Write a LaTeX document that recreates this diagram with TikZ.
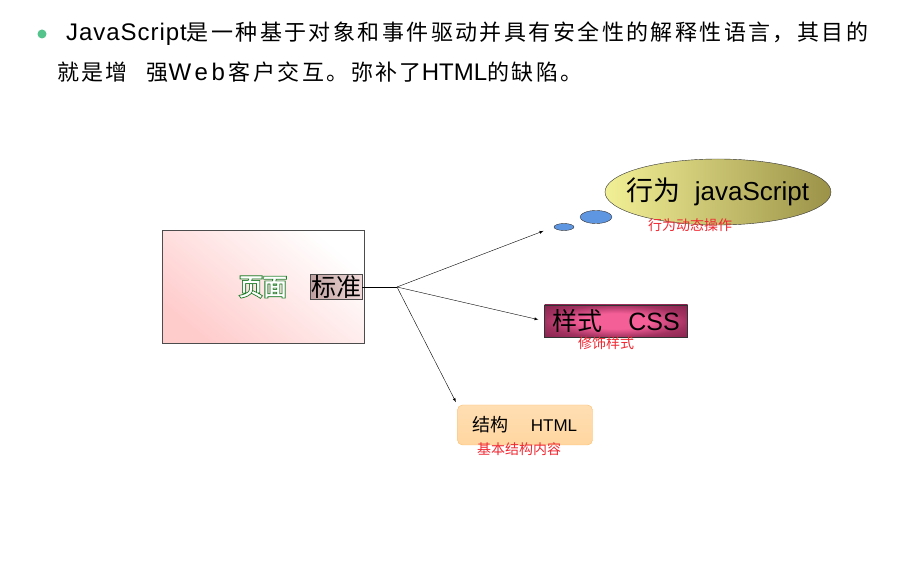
\documentclass[tikz,border=0pt]{standalone}
\usepackage{fontspec}
\setmainfont{Noto Sans CJK SC}
\newfontfamily\latinF{Liberation Sans}
\usetikzlibrary{shapes,positioning,calc}
\definecolor{dotGreen}{RGB}{84,196,140}
\definecolor{pageGreen}{RGB}{30,125,40}
\definecolor{noteRed}{RGB}{240,40,50}
\definecolor{bubBlue}{RGB}{95,150,225}
\definecolor{olivLight}{RGB}{242,240,150}
\definecolor{olivDark}{RGB}{155,146,72}
\definecolor{cssPink}{RGB}{245,95,152}
\definecolor{cssDark}{RGB}{135,35,78}
\definecolor{htmlFill}{RGB}{255,214,160}
\definecolor{htmlLine}{RGB}{250,190,110}
\pgfdeclareradialshading{cssGlow}{\pgfpoint{0bp}{0bp}}%
  {color(0bp)=(cssPink); color(12bp)=(cssPink); color(25bp)=(cssDark!75!cssPink);
   color(36bp)=(cssDark); color(50bp)=(cssDark)}

\begin{document}
\begin{tikzpicture}
  [x=1pt,y=-1pt,
   titleT/.style={anchor=west,inner sep=0pt,font=\fontsize{22}{25}\selectfont},
   pageN/.style={draw=black!70,minimum width=202pt,minimum height=113pt,
                 top color=white,bottom color=red!20,shading angle=-40},
   stdN/.style={draw=black!70,inner sep=1pt,font=\fontsize{25}{27}\selectfont,
                left color={rgb,255:red,190;green,160;blue,160},
                right color={rgb,255:red,242;green,218;blue,218}},
   bubbleN/.style={ellipse,draw=black!80,fill=bubBlue,inner sep=0pt},
   jsN/.style={ellipse,draw=black!80,minimum width=226pt,minimum height=66pt,inner sep=0pt,
               left color=olivLight,right color=olivDark},
   cssN/.style={draw=black!80,minimum width=143pt,minimum height=32pt,inner sep=0pt,
                shading=cssGlow,font=\fontsize{25}{28}\selectfont},
   htmlN/.style={draw=htmlLine,rounded corners=5pt,minimum width=135pt,minimum height=40pt,
                 inner sep=0pt,top color=htmlFill!80!white,bottom color=htmlFill,
                 font=\fontsize{18}{20}\selectfont},
   noteN/.style={text=noteRed,inner sep=0pt,font=\fontsize{14}{16}\selectfont},
   thin,>=latex]

  \useasboundingbox (0,0) rectangle (922,569);

  % heading
  \fill [dotGreen] (42,34) circle (4.5pt);
  \node at (66,34) [titleT] (line1)
    {{\latinF\fontsize{24}{25}\selectfont\addfontfeature{LetterSpace=4}JavaScript}%
     {\addfontfeature{LetterSpace=11}是一种基于对象和事件驱动并具有安全性的解释性语言，其目的}};
  \node at (57,72) [titleT] (line2)
    {{\addfontfeature{LetterSpace=10}就是增}\hspace{19pt}{\addfontfeature{LetterSpace=10}强}%
     {\latinF\fontsize{24}{25}\selectfont W\hspace{3.5pt}e\hspace{3.5pt}b\hspace{4pt}}%
     {\addfontfeature{LetterSpace=11}客户交互。弥补了}{\latinF\fontsize{24}{25}\selectfont HTML}%
     {\addfontfeature{LetterSpace=11}的缺陷。}};

  % page box
  \node at (263,287) [pageN] (page) {};
  \node at (263,287) [text=pageGreen,font=\fontsize{24}{26}\selectfont\addfontfeature{FakeBold=9}] (pageT) {页面};
  \node at (263,287) [text=white,font=\fontsize{24}{26}\selectfont\addfontfeature{FakeBold=1.5}] (pageIn) {页面};
  \node at (336,287) [stdN] (std) {标准};
  \coordinate (hub) at (397,287);

  % behaviour
  \node at (564,227) [bubbleN,minimum width=20pt,minimum height=7pt] (bubA) {};
  \node at (596,217) [bubbleN,minimum width=32pt,minimum height=13pt] (bubB) {};
  \node at (718,192) [jsN] (js) {};
  \node at (718,192) [font=\fontsize{27}{30}\selectfont] (jsT)
    {行为\hspace{14pt}{\latinF\fontsize{26}{30}\selectfont javaScript}};
  \node at (690,225) [noteN] (jsNote) {行为动态操作};

  % style
  \node at (616,321) [cssN] (css) {样式\hspace{26pt}{\latinF CSS}};
  \node at (606,343) [noteN] (cssNote) {修饰样式};

  % structure
  \node at (525,425) [htmlN] (html) {结构\hspace{22pt}{\latinF\fontsize{17}{20}\selectfont HTML}};
  \node at (519,449) [noteN] (htmlNote) {基本结构内容};

  \draw (std.east) -- (hub);
  \draw [->,shorten >=11pt] (hub) to (bubA.west);
  \draw [->,shorten >=6pt] (hub) to (css.west);
  \draw [->,shorten >=3pt] (hub) to (html.north west);
\end{tikzpicture}
\end{document}
